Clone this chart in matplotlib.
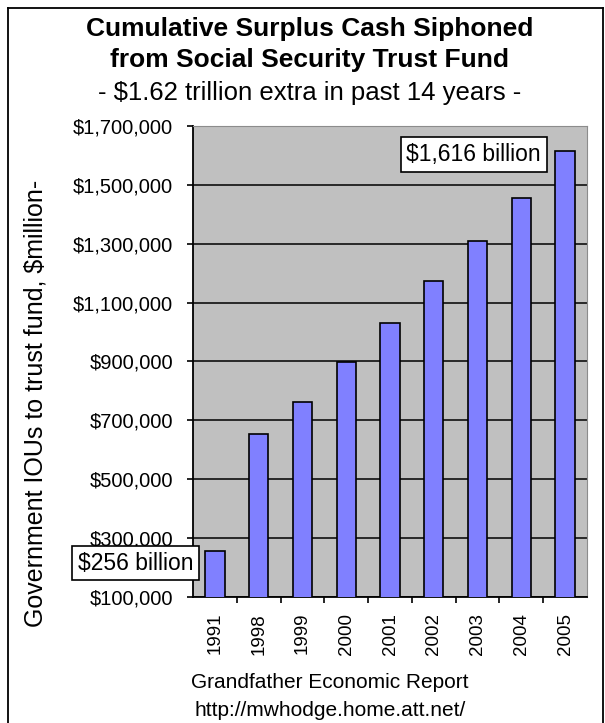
import matplotlib
matplotlib.use("Agg")
import matplotlib.pyplot as plt
from matplotlib.lines import Line2D
from matplotlib.ticker import FuncFormatter

plt.rcParams['font.family'] = ['Liberation Sans', 'DejaVu Sans']

# Data (millions of dollars)
years = ["1991", "1998", "1999", "2000", "2001", "2002", "2003", "2004", "2005"]
iou_values = [256000, 653000, 764000, 897000, 1032000, 1175000, 1311000, 1454000, 1616000]
y_ticks = [100000, 300000, 500000, 700000, 900000, 1100000, 1300000, 1500000, 1700000]

W, H = 605, 723
fig = plt.figure(figsize=(W / 100, H / 100), dpi=100)

def fx(px):
    return px / W

def fy(py):
    return 1 - py / H

# Outer frame (bottom edge runs off the picture)
for xs, ys in [([8, 8], [8, H + 5]), ([8, 603], [8, 8]), ([603, 603], [8, H + 5])]:
    fig.lines.append(Line2D([fx(v) for v in xs], [fy(v) for v in ys],
                            transform=fig.transFigure, color="black", linewidth=1.3))

# Plot area in pixels: left 193, right 587, top 126, bottom 597
ax = fig.add_axes([fx(193), fy(597), (587 - 193) / W, (597 - 126) / H])
ax.set_facecolor("#C0C0C0")

x = list(range(len(years)))
ax.bar(x, iou_values, width=0.44, color="#8080FF", edgecolor="black",
       linewidth=1.2, zorder=3)

ax.set_ylim(100000, 1700000)
ax.set_xlim(-0.5, len(years) - 0.5)
ax.set_yticks(y_ticks)
ax.yaxis.set_major_formatter(FuncFormatter(lambda v, p: "${:,.0f}".format(v)))
ax.grid(axis="y", color="black", linewidth=1.1, zorder=1)

ax.set_xticks(x)
ax.set_xticklabels(years, rotation=90, fontsize=13.5, va="top")
ax.tick_params(axis="x", length=0, pad=11.5)
ax.tick_params(axis="y", labelsize=14.5, length=4.3, width=1.2, pad=10, direction="out")
# separators between categories
ax.set_xticks([i + 0.5 for i in x[:-1]], minor=True)
ax.tick_params(axis="x", which="minor", length=4.5, width=1.2, direction="out")

for side in ["top", "right"]:
    ax.spines[side].set_color("#8c8c8c")
for side in ["left", "bottom"]:
    ax.spines[side].set_linewidth(1.3)

fig.text(fx(36), fy(403), "Government IOUs to trust fund, $million-", rotation=90,
         ha="center", va="center", fontsize=18)

# Callout boxes
box = dict(boxstyle="square,pad=0.25", facecolor="white", edgecolor="black", linewidth=1.2)
ax.text(7.45, 1603000, "$1,616 billion", fontsize=16.5, ha="right", va="center",
        bbox=box, zorder=5)
ax.text(-0.5, 215000, "$256 billion", fontsize=16.5, ha="right", va="center",
        bbox=box, zorder=5, clip_on=False)

# Titles
fig.text(fx(310), fy(29), "Cumulative Surplus Cash Siphoned", ha="center", va="center",
         fontsize=19, fontweight="bold")
fig.text(fx(310), fy(60), "from Social Security Trust Fund", ha="center", va="center",
         fontsize=19, fontweight="bold")
fig.text(fx(310), fy(93), "- $1.62 trillion extra in past 14 years -", ha="center",
         va="center", fontsize=18.5)

# Footer
fig.text(fx(330), fy(683), "Grandfather Economic Report", ha="center", va="center",
         fontsize=15)
fig.text(fx(330), fy(711), "http://mwhodge.home.att.net/", ha="center", va="center",
         fontsize=15)

fig.savefig("out.png", dpi=100)
